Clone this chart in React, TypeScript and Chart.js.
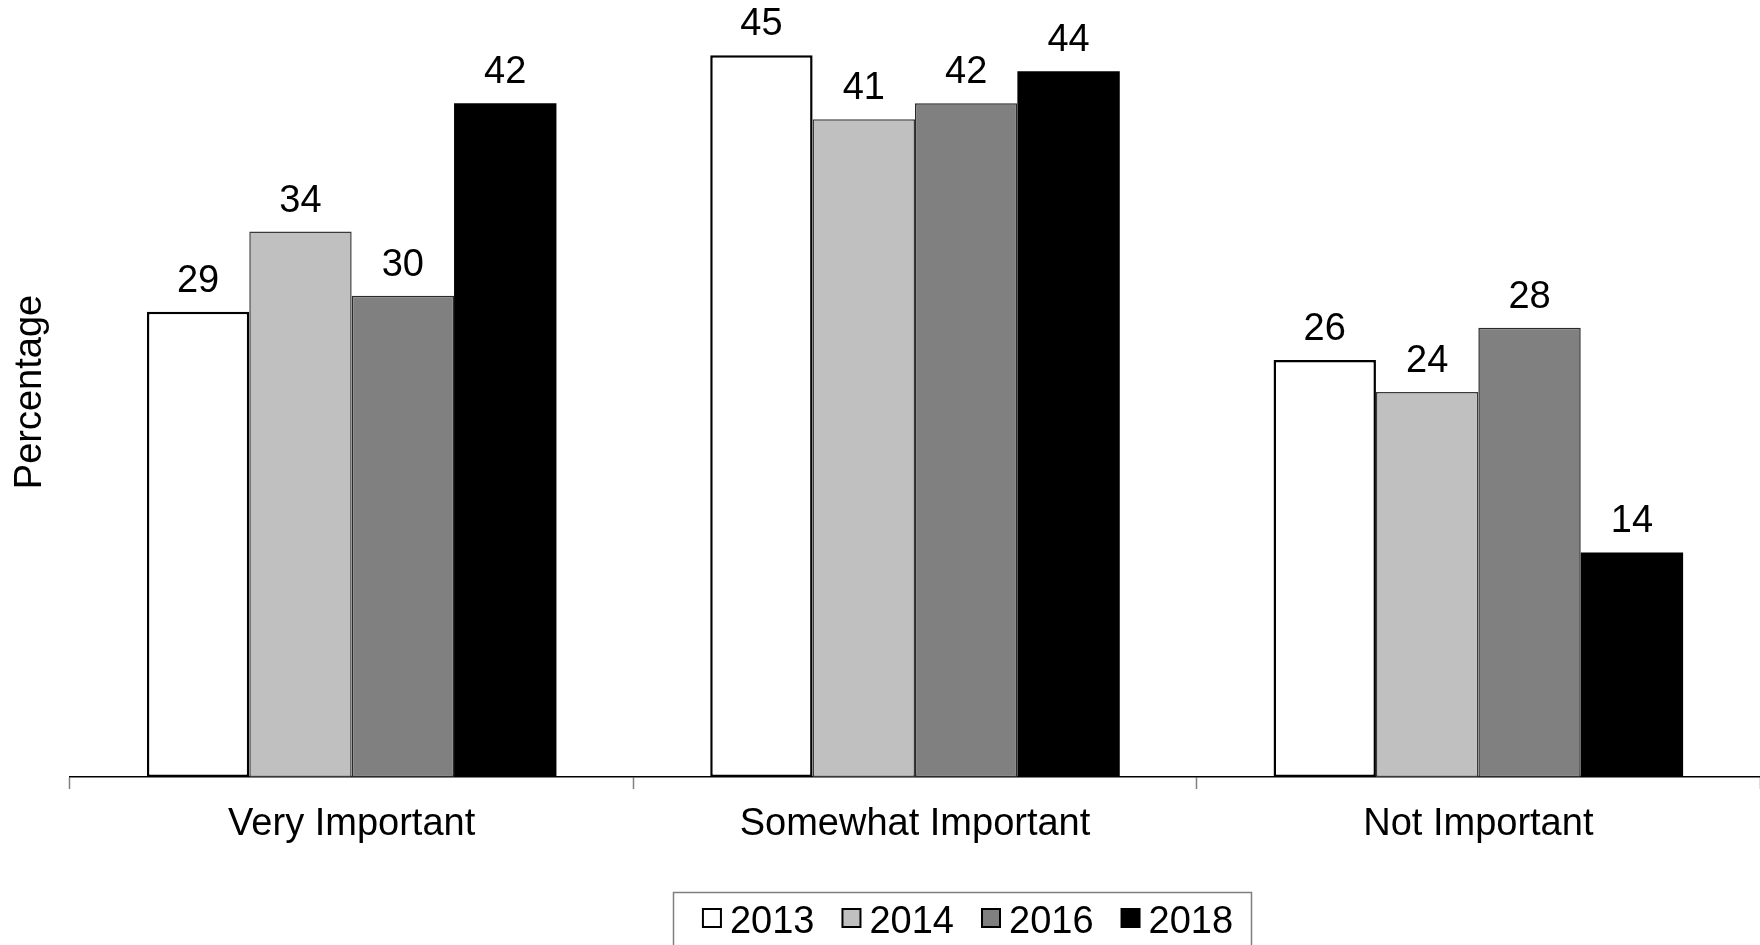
import React, { useEffect, useRef } from "react";
import { Chart, registerables } from "chart.js";

Chart.register(...registerables);

// ---- data ----
const categories = ["Very Important", "Somewhat Important", "Not Important"];
const seriesNames = ["2013", "2014", "2016", "2018"];
const values2013 = [29, 45, 26];
const values2014 = [34, 41, 24];
const values2016 = [30, 42, 28];
const values2018 = [42, 44, 14];
const seriesValues = [values2013, values2014, values2016, values2018];
const yTitle = "Percentage";
const yMin = 0;
const yMax = 48;

// ---- styles ----
const fillColors = ["#FFFFFF", "#C0C0C0", "#808080", "#000000"];
const edgeColors = ["#000000", "#3a3a3a", "#2a2a2a", "#000000"];
const edgeWidths = [2.5, 1.5, 1.5, 0];
const FONT = '"Liberation Sans", Arial, sans-serif';
const FS = 38;

const valueLabels = {
  id: "valueLabels",
  afterDatasetsDraw(chart: any) {
    const ctx = chart.ctx;
    ctx.save();
    ctx.font = `${FS}px ${FONT}`;
    ctx.fillStyle = "#000";
    ctx.textAlign = "center";
    ctx.textBaseline = "alphabetic";
    chart.data.datasets.forEach((ds: any, di: number) => {
      const meta = chart.getDatasetMeta(di);
      meta.data.forEach((bar: any, i: number) => {
        ctx.fillText(String(ds.data[i]), bar.x, bar.y - 20);
      });
    });
    ctx.restore();
  },
};

const boxedLegend = {
  id: "boxedLegend",
  afterDraw(chart: any) {
    const ctx = chart.ctx;
    ctx.save();
    ctx.font = `${FS}px ${FONT}`;
    const box = 18;
    const gapText = 9;
    const gapItem = 28;
    const items = chart.data.datasets.map((ds: any) => ({
      label: ds.label as string,
      fill: ds.backgroundColor as string,
      w: ctx.measureText(ds.label).width as number,
    }));
    const total =
      items.reduce((s: number, it: any) => s + box + gapText + it.w, 0) +
      gapItem * (items.length - 1);
    const cx = 968;
    let x = cx - total / 2;
    const baseY = 933;
    ctx.strokeStyle = "#7f7f7f";
    ctx.lineWidth = 1.5;
    ctx.strokeRect(673.5, 892.5, 578, 80);
    items.forEach((it: any) => {
      ctx.fillStyle = it.fill;
      ctx.fillRect(x, 909, box, box);
      ctx.strokeStyle = "#000";
      ctx.lineWidth = 2;
      ctx.strokeRect(x, 909, box, box);
      ctx.fillStyle = "#000";
      ctx.textAlign = "left";
      ctx.textBaseline = "alphabetic";
      ctx.fillText(it.label, x + box + gapText, baseY);
      x += box + gapText + it.w + gapItem;
    });
    ctx.restore();
  },
};

export default function App() {
  const ref = useRef<HTMLCanvasElement | null>(null);

  useEffect(() => {
    document.body.style.margin = "0";
    const canvas = ref.current;
    if (!canvas) return;
    const chart = new Chart(canvas, {
      type: "bar",
      data: {
        labels: categories,
        datasets: seriesNames.map((name, i) => ({
          label: name,
          data: seriesValues[i],
          backgroundColor: fillColors[i],
          borderColor: edgeColors[i],
          borderWidth: edgeWidths[i],
          borderSkipped: false,
          categoryPercentage: 0.727,
          barPercentage: 1.0,
        })),
      },
      options: {
        animation: false,
        responsive: false,
        maintainAspectRatio: false,
        layout: { padding: { top: 7, left: 0, right: 0, bottom: 0 } },
        plugins: {
          legend: { display: false },
          tooltip: { enabled: false },
        },
        scales: {
          x: {
            grid: {
              offset: true,
              drawOnChartArea: false,
              drawTicks: true,
              tickLength: 12,
              tickColor: "#808080",
              tickWidth: 1.5,
            },
            border: { display: true, color: "#000", width: 1.5 },
            ticks: {
              font: { family: FONT, size: FS },
              color: "#000",
              padding: 13,
              maxRotation: 0,
            },
            afterFit: (s: any) => {
              s.height = 168;
            },
          },
          y: {
            min: yMin,
            max: yMax,
            ticks: { display: false },
            grid: { display: false },
            border: { display: false },
            title: {
              display: true,
              text: yTitle,
              font: { family: FONT, size: FS },
              color: "#000",
              padding: { top: 8, bottom: 0 },
            },
            afterFit: (s: any) => {
              s.width = 70;
            },
          },
        },
      } as any,
      plugins: [valueLabels, boxedLegend],
    });
    return () => chart.destroy();
  }, []);

  return (
    <div style={{ width: 1760, height: 945, background: "#fff" }}>
      <canvas ref={ref} width={1760} height={945} style={{ display: "block" }} />
    </div>
  );
}
